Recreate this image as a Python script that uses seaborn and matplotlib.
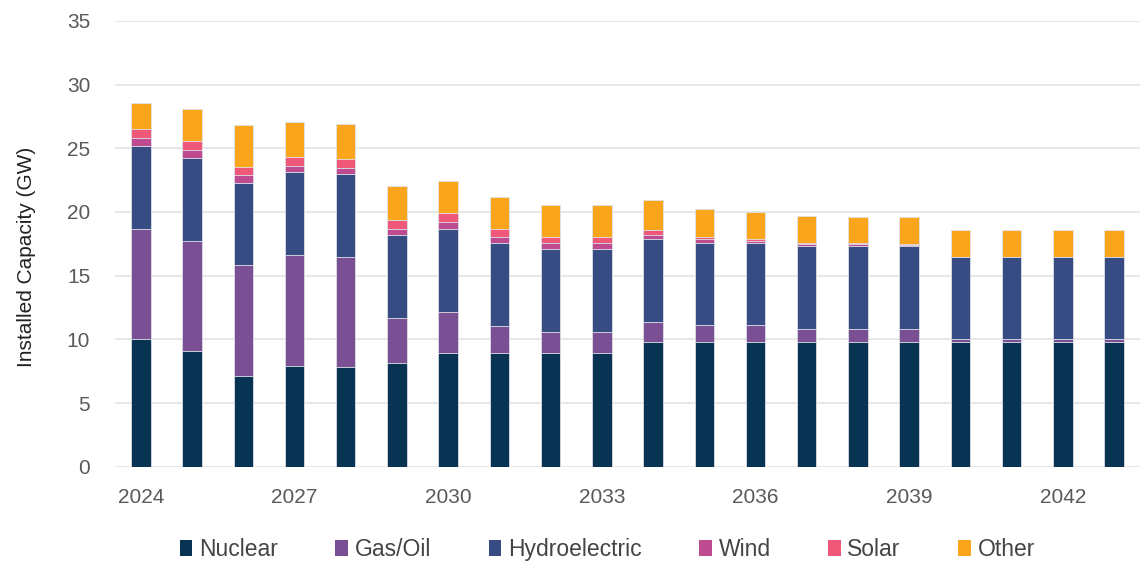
import numpy as np
import pandas as pd
import matplotlib
matplotlib.use("Agg")
import matplotlib.pyplot as plt
import seaborn as sns
from matplotlib.patches import Patch

# Data (GW)
years = [str(y) for y in range(2024, 2044)]
nuclear = [10.0, 9.05, 7.1, 7.9, 7.8, 8.15, 8.95, 8.95, 8.95, 8.95,
           9.8, 9.8, 9.8, 9.8, 9.8, 9.8, 9.8, 9.8, 9.8, 9.8]
gas_oil = [8.65, 8.65, 8.7, 8.7, 8.65, 3.5, 3.2, 2.1, 1.65, 1.65,
           1.55, 1.3, 1.3, 1.0, 1.0, 1.0, 0.22, 0.22, 0.22, 0.22]
hydro = [6.5, 6.5, 6.45, 6.5, 6.5, 6.5, 6.5, 6.5, 6.5, 6.5,
         6.5, 6.5, 6.5, 6.5, 6.5, 6.5, 6.45, 6.45, 6.45, 6.45]
wind = [0.63, 0.65, 0.65, 0.5, 0.5, 0.48, 0.55, 0.47, 0.45, 0.45,
        0.32, 0.25, 0.15, 0.17, 0.17, 0.1, 0.0, 0.0, 0.0, 0.0]
solar = [0.7, 0.7, 0.6, 0.72, 0.7, 0.7, 0.7, 0.63, 0.47, 0.47,
         0.4, 0.15, 0.1, 0.08, 0.08, 0.05, 0.0, 0.0, 0.0, 0.0]
other = [2.1, 2.5, 3.3, 2.7, 2.75, 2.7, 2.5, 2.5, 2.5, 2.5,
         2.4, 2.2, 2.15, 2.15, 2.05, 2.15, 2.1, 2.1, 2.1, 2.1]

sources = ["Nuclear", "Gas/Oil", "Hydroelectric", "Wind", "Solar", "Other"]
colors = ["#083352", "#7b4f93", "#364c83", "#be4b8f", "#f0587a", "#fba51c"]

df = pd.DataFrame({"year": years, "Nuclear": nuclear, "Gas/Oil": gas_oil,
                   "Hydroelectric": hydro, "Wind": wind, "Solar": solar,
                   "Other": other})
cum = df[sources].cumsum(axis=1)
cum["year"] = df["year"]

sns.set_theme(style="white")
plt.rcParams["font.family"] = ["Liberation Sans", "DejaVu Sans"]

fig = plt.figure(figsize=(11.46, 5.63), dpi=100)
ax = fig.add_axes([0.1005, 0.171, 0.894, 0.792])

# stacked bars: draw cumulative totals from top layer down
for src, col in reversed(list(zip(sources, colors))):
    sns.barplot(data=cum, x="year", y=src, order=years, color=col,
                width=0.38, saturation=1, edgecolor="#dfe3ea",
                linewidth=0.6, ax=ax, zorder=3)

ax.set_ylim(0, 35)
ax.set_xlim(-0.5, 19.5)
ax.set_yticks(range(0, 36, 5))
ax.set_xticks(range(0, 20, 3))
ax.set_xticklabels(years[::3])
ax.yaxis.grid(True, color="#e3e3e3", linewidth=1.2, zorder=0)
ax.set_axisbelow(True)
for s in ax.spines.values():
    s.set_visible(False)
ax.tick_params(axis="both", length=0, labelsize=15, labelcolor="#595959")
ax.tick_params(axis="y", pad=18)
ax.tick_params(axis="x", pad=15)
ax.set_xlabel("")
ax.set_ylabel("Installed Capacity (GW)", fontsize=15, color="#222222")
ax.yaxis.set_label_coords(-0.077, 0.47)

handles = [Patch(facecolor=c, edgecolor="none", label=s)
           for s, c in zip(sources, colors)]
fig.legend(handles=handles, loc="center", bbox_to_anchor=(0.53, 0.024),
           ncol=6, frameon=False, fontsize=16.5, labelcolor="#444444",
           handlelength=0.55, handleheight=0.7, handletextpad=0.3,
           columnspacing=2.5)

fig.savefig("out.png", dpi=100)
